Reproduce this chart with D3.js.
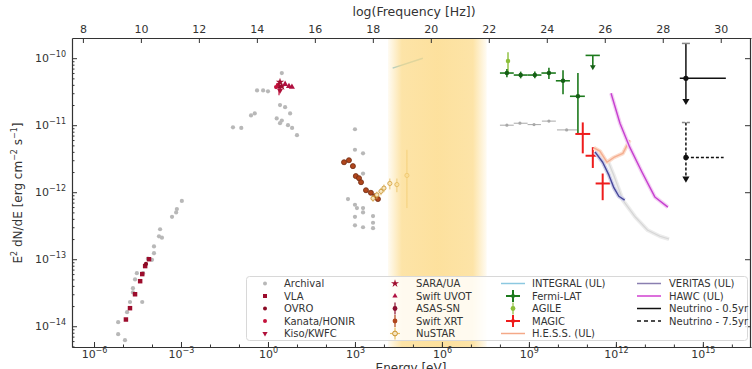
<!DOCTYPE html>
<html>
<head>
<meta charset="utf-8">
<script src="https://cdn.jsdelivr.net/npm/d3@7"></script>
<style>
  body { margin: 0; background: #fff; }
  svg { display: block; font-family: "DejaVu Sans", sans-serif; }
</style>
</head>
<body>
<svg id="chart" width="752" height="369"></svg>
<script>
// ---- data: [energy eV, E^2 dN/dE erg cm^-2 s^-1] ----
const archival = [
  [6.8e-6, 7.6e-15], [1.17e-5, 6.2e-15], [6.8e-6, 1.15e-14], [1.38e-5, 1.62e-14], [1.74e-5, 2.3e-14],
  [2.2e-5, 3.2e-14], [2.2e-5, 3.7e-14], [4.6e-5, 2.3e-14], [2.6e-5, 5.0e-14], [3.0e-5, 6.2e-14],
  [4.9e-5, 6.2e-14], [7.2e-5, 1.02e-13], [1.0e-4, 9.8e-14], [1.17e-4, 1.55e-13], [1.17e-4, 1.23e-13],
  [1.74e-4, 2.2e-13], [2.2e-4, 2.1e-13], [1.9e-4, 2.8e-13], [4.9e-4, 4.3e-13], [6.8e-4, 5.0e-13],
  [7.2e-4, 5.6e-13], [1.07e-3, 7.4e-13],
  [3.0, 6.0e-11], [0.68, 3.3e-11], [1.0, 3.2e-11], [0.42, 3.3e-11], [2.6, 2.0e-11], [3.9, 1.86e-11],
  [0.35, 1.5e-11], [0.26, 1.4e-11], [2.0, 1.26e-11], [3.0, 1.17e-11], [5.8, 1.5e-11], [2.6, 1.07e-11],
  [4.9, 1.0e-11], [6.8, 9.1e-12], [10, 7.1e-12], [0.062, 9.3e-12], [0.12, 9.1e-12],
  [1000, 8.7e-12], [1000, 4.3e-12], [1900, 3.8e-12], [1900, 1.9e-12], [575, 7.9e-13], [1000, 6.5e-13],
  [1170, 5.8e-13], [1900, 5.8e-13], [1900, 5.0e-13], [1000, 4.3e-13], [4200, 4.4e-13], [4200, 3.5e-13],
  [1000, 3.2e-13], [1900, 3.0e-13], [4200, 2.9e-13]
];
// archival gamma-ray points with energy bins [E, F, Elo, Ehi]
const archivalGamma = [
  [1.74e8, 1.0e-11, 1.0e8, 3.0e8], [4.9e8, 1.07e-11, 3.0e8, 9.0e8], [1.5e9, 1.02e-11, 9.0e8, 2.6e9],
  [4.9e9, 1.15e-11, 2.8e9, 8.5e9], [2.0e10, 8.5e-12, 9.3e9, 4.6e10]
];
const vla = [[1.26e-5, 1.26e-14], [1.74e-5, 1.86e-14], [2.6e-5, 3.0e-14], [3.9e-5, 4.7e-14],
  [4.6e-5, 6.0e-14], [5.8e-5, 7.9e-14], [7.9e-5, 1.0e-13]];
const ovro = [[6.2e-5, 8.5e-14]];
const kanata = [[1.9, 3.7e-11], [2.2, 4.0e-11]];
const kiso = [[2.6, 3.3e-11]];
const sara = [[3.0, 3.8e-11], [2.6, 4.4e-11]];
const uvot = [[3.9, 4.1e-11], [5.3, 3.8e-11], [6.7, 3.7e-11]];
const asassn = [[2.4, 3.8e-11, 2.8e-11, 4.6e-11]];
const swiftXrt = [[420, 2.8e-12], [620, 3.0e-12], [850, 2.45e-12], [1070, 1.74e-12], [1380, 1.62e-12],
  [1620, 1.41e-12], [2400, 1.07e-12], [3550, 9.8e-13], [4900, 8.7e-13], [6200, 7.9e-13]];
// [E, F, Flo, Fhi]
const nustar = [[4200, 8.1e-13, 7.2e-13, 9.0e-13], [5700, 9.1e-13, 8.0e-13, 1.02e-12],
  [7900, 1.03e-12, 9.0e-13, 1.16e-12], [1.0e4, 1.15e-12, 1.0e-12, 1.3e-12],
  [1.6e4, 1.35e-12, 1.1e-12, 1.6e-12], [2.8e4, 1.3e-12, 1.0e-12, 1.6e-12], [6.2e4, 1.78e-12, 5.8e-13, 4.3e-12]];
const integral = [[2.0e4, 7.1e-11], [2.2e5, 1.0e-10]];
// [E, F, Flo, Fhi, Elo, Ehi]
const fermi = [
  [1.74e8, 6.0e-11, 5.2e-11, 6.9e-11, 1.0e8, 3.0e8], [5.2e8, 5.6e-11, 5.0e-11, 6.3e-11, 3.0e8, 9.0e8],
  [1.6e9, 5.6e-11, 5.0e-11, 6.3e-11, 9.0e8, 2.7e9], [4.9e9, 6.0e-11, 4.9e-11, 7.2e-11, 2.7e9, 8.5e9],
  [1.5e10, 4.6e-11, 2.9e-11, 6.6e-11, 8.5e9, 2.6e10], [4.9e10, 2.7e-11, 7.6e-12, 6.0e-11, 2.6e10, 8.5e10]
];
const fermiUL = [[1.6e11, 1.1e-10, 7.4e-11, 9.0e10, 2.8e11]];
const agile = [[1.9e8, 9.1e-11, 6.0e-11, 1.23e-10]];
const magic = [[7.2e10, 7.4e-12, 3.8e-12, 1.1e-11, 4.0e10, 1.3e11], [1.6e11, 3.5e-12, 2.3e-12, 4.7e-12, 9.0e10, 2.8e11],
  [3.5e11, 1.35e-12, 7.6e-13, 1.9e-12, 2.0e11, 6.2e11]];
const hess = [[1.74e11, 4.6e-12], [2.8e11, 4.1e-12], [4.9e11, 2.8e-12], [8.5e11, 3.3e-12], [1.74e12, 3.8e-12], [3.0e12, 6.0e-12]];
const veritas = [[1.9e11, 4.0e-12], [3.5e11, 2.8e-12], [5.8e11, 1.78e-12], [8.5e11, 1.17e-12], [1.26e12, 8.7e-13], [2.0e12, 7.6e-13]];
const veritasArch = [[5.2e11, 3.0e-12], [8.5e11, 1.78e-12], [1.74e12, 7.6e-13], [4.6e12, 4.3e-13], [1.26e13, 2.7e-13],
  [3.3e13, 2.2e-13], [6.8e13, 2.0e-13]];
const hawc = [[6.8e11, 3.0e-11], [1.38e12, 1.07e-11], [3.0e12, 4.7e-12], [7.9e12, 2.0e-12], [2.2e13, 8.5e-13], [6.2e13, 6.0e-13]];
// neutrino: [E, F, Flo, Fhi, Elo, Ehi]
const nu05 = [2.6e14, 5.0e-11, 2.3e-11, 1.66e-10, 1.6e14, 6.2e15];
const nu75 = [2.6e14, 3.3e-12, 1.6e-12, 1.1e-11, 2.6e14, 5.2e15];
const bandRange = [1.38e4, 3.5e7];
const yTickExp = [-14, -13, -12, -11, -10];
const xTickExp = [-6, -3, 0, 3, 6, 9, 12, 15];
const freqTicks = [8, 10, 12, 14, 16, 18, 20, 22, 24, 26, 28, 30];

const H_EV = 4.1357e-15;
const L = 72, R = 750, T = 38, B = 347;
const svg = d3.select("#chart");
const x = d3.scaleLog().domain([1.74e-7, 4.57e16]).range([L, 751]);
const y = d3.scaleLog().domain([4.9e-15, 2.0e-10]).range([B, T]);
const xf = d3.scaleLinear().domain([Math.log10(1.74e-7 / H_EV), Math.log10(4.57e16 / H_EV)]).range([L, 751]);

svg.append("defs").append("clipPath").attr("id", "clip")
  .append("rect").attr("x", L).attr("y", T).attr("width", R - L).attr("height", B - T);
const plot = svg.append("g").attr("clip-path", "url(#clip)");

const sym = (type, size) => d3.symbol().type(type).size(size)();

function errY(g, d, color, w) {
  g.append("line").attr("x1", x(d[0])).attr("x2", x(d[0])).attr("y1", y(d[2])).attr("y2", y(d[3]))
    .attr("stroke", color).attr("stroke-width", w);
}
function errX(g, e, f, lo, hi, color, w) {
  g.append("line").attr("x1", x(lo)).attr("x2", x(hi)).attr("y1", y(f)).attr("y2", y(f))
    .attr("stroke", color).attr("stroke-width", w);
}
function points(data, type, size, fill, stroke, rot) {
  plot.append("g").selectAll("path").data(data).join("path")
    .attr("d", sym(type, size))
    .attr("transform", d => `translate(${x(d[0])},${y(d[1])})` + (rot ? " rotate(180)" : ""))
    .attr("fill", fill).attr("stroke", stroke || "none").attr("stroke-width", 0.8);
}

// archival
points(archival, d3.symbolCircle, 14, "#b8b8b8");
archivalGamma.forEach(d => errX(plot, d[0], d[1], d[2], d[3], "#a8a8a8", 1));
points(archivalGamma, d3.symbolCircle, 8, "#a8a8a8");

// radio / optical
points(vla, d3.symbolSquare, 20, "#9c0c2c");
points(ovro, d3.symbolCircle, 14, "#8a0a24");
asassn.forEach(d => errY(plot, d, "#c21440", 1.2));
points(asassn, d3.symbolCircle, 16, "#8b1030");
points(kanata, d3.symbolCircle, 14, "#c4123c");
points(kiso, d3.symbolTriangle, 16, "#b0103a", null, true);
points(sara, d3.symbolStar, 22, "#a00e30");
points(uvot, d3.symbolTriangle, 16, "#b01040");

// X-ray
points(swiftXrt, d3.symbolCircle, 20, "#b0461c", "#6e2a10");
nustar.forEach(d => errY(plot, d, "#e0b860", 1));
points(nustar, d3.symbolCircle, 14, "#f6e6c0", "#c8902a");
plot.append("path").datum(integral)
  .attr("d", d3.line().x(d => x(d[0])).y(d => y(d[1])))
  .attr("fill", "none").attr("stroke", "#8cc8e0").attr("stroke-width", 1.5);

// gamma-ray
const gam = plot.append("g");
agile.forEach(d => errY(gam, d, "#8cbf3a", 1.4));
points(agile, d3.symbolCircle, 16, "#8cbf3a");
fermi.forEach(d => { errY(gam, d, "#1d7a1d", 1.6); errX(gam, d[0], d[1], d[4], d[5], "#1d7a1d", 1.6); });
points(fermi, d3.symbolCircle, 16, "#165f16");
fermiUL.forEach(d => {
  errX(gam, d[0], d[1], d[3], d[4], "#1d7a1d", 1.6);
  gam.append("line").attr("x1", x(d[0])).attr("x2", x(d[0])).attr("y1", y(d[1])).attr("y2", y(d[2]))
    .attr("stroke", "#1d7a1d").attr("stroke-width", 1.6);
  gam.append("path").attr("d", sym(d3.symbolTriangle, 14))
    .attr("transform", `translate(${x(d[0])},${y(d[2])}) rotate(180)`).attr("fill", "#165f16");
});

const curve = (data, color, w, op) => plot.append("path").datum(data)
  .attr("d", d3.line().x(d => x(d[0])).y(d => y(d[1])))
  .attr("fill", "none").attr("stroke", color).attr("stroke-width", w).attr("stroke-opacity", op)
  .attr("stroke-linejoin", "round");
curve(veritasArch, "#ececec", 4, 1);
curve(veritasArch, "#d6d6d6", 1.2, 1);
curve(hess, "#fcdccc", 4, 1);
curve(hess, "#f4ae90", 1.4, 1);
curve(veritas, "#d0d0ea", 4, 1);
curve(veritas, "#46479a", 1.4, 1);
curve(hawc, "#f3d0f3", 4, 1);
curve(hawc, "#c63fd0", 1.4, 1);

magic.forEach(d => { errY(gam, d, "#ee1c1c", 2); errX(gam, d[0], d[1], d[4], d[5], "#ee1c1c", 2); });

// neutrinos
function neutrino(d, dash) {
  const g = plot.append("g").attr("stroke", "#111").attr("stroke-width", 1.5).attr("stroke-dasharray", dash);
  g.append("line").attr("x1", x(d[0])).attr("x2", x(d[0])).attr("y1", y(d[3])).attr("y2", y(d[2]));
  g.append("line").attr("x1", x(d[4])).attr("x2", x(d[5])).attr("y1", y(d[1])).attr("y2", y(d[1]));
  g.append("line").attr("x1", x(d[0]) - 4).attr("x2", x(d[0]) + 4).attr("y1", y(d[3])).attr("y2", y(d[3]))
    .attr("stroke", "#888").attr("stroke-dasharray", null);
  plot.append("path").attr("d", sym(d3.symbolTriangle, 22))
    .attr("transform", `translate(${x(d[0])},${y(d[2])}) rotate(180)`).attr("fill", "#111");
  plot.append("circle").attr("cx", x(d[0])).attr("cy", y(d[1])).attr("r", 2.6).attr("fill", "#111");
}
neutrino(nu05, null);
neutrino(nu75, "3,2");

// MeV gap band
const grad = svg.select("defs").append("linearGradient").attr("id", "band");
[[0, 0.1], [0.14, 0.72], [0.5, 0.8], [0.86, 0.72], [1, 0.1]].forEach(s =>
  grad.append("stop").attr("offset", s[0]).attr("stop-color", "#fcd985").attr("stop-opacity", s[1]));
plot.append("rect").attr("x", x(bandRange[0])).attr("y", T).attr("width", x(bandRange[1]) - x(bandRange[0]))
  .attr("height", B - T).attr("fill", "url(#band)");

// axes
function supLabel(t, base, exp) {
  t.text(null);
  t.append("tspan").text(base);
  t.append("tspan").attr("dy", -5).attr("font-size", 8).text(exp);
}
const axStyle = g => {
  g.select(".domain").attr("stroke", "#333").attr("stroke-width", 1.2);
  g.selectAll(".tick line").attr("stroke", "#333");
  g.selectAll("text").attr("fill", "#333").attr("font-size", 11).attr("font-family", "DejaVu Sans");
};

const minorY = [];
for (let p = -15; p <= -10; p++) for (let k = 2; k <= 9; k++) minorY.push(k * Math.pow(10, p));
svg.append("g").attr("transform", `translate(${L},0)`)
  .call(d3.axisLeft(y).tickValues(minorY.filter(v => v > 4.9e-15 && v < 2e-10)).tickSize(-2.5).tickFormat(""))
  .call(g => g.select(".domain").remove()).selectAll("line").attr("stroke", "#333");
svg.append("g").attr("transform", `translate(${L},0)`)
  .call(d3.axisLeft(y).tickValues(yTickExp.map(p => Math.pow(10, p))).tickSize(-5).tickSizeOuter(0).tickPadding(6))
  .call(axStyle)
  .selectAll(".tick text").each(function (d, i) { supLabel(d3.select(this), "10", "\u2212" + (-yTickExp[i])); });
svg.append("g").attr("transform", `translate(${R},0)`)
  .call(d3.axisRight(y).tickValues(yTickExp.map(p => Math.pow(10, p))).tickSize(-5).tickSizeOuter(0).tickFormat(""))
  .call(axStyle);

const minorX = d3.range(-6, 17).map(p => Math.pow(10, p));
svg.append("g").attr("transform", `translate(0,${B})`)
  .call(d3.axisBottom(x).tickValues(minorX).tickSize(-2.5).tickFormat(""))
  .call(g => g.select(".domain").remove()).selectAll("line").attr("stroke", "#333");
svg.append("g").attr("transform", `translate(0,${B})`)
  .call(d3.axisBottom(x).tickValues(xTickExp.map(p => Math.pow(10, p))).tickSize(-5).tickSizeOuter(0).tickPadding(3))
  .call(axStyle)
  .selectAll(".tick text").each(function (d, i) {
    const e = xTickExp[i];
    supLabel(d3.select(this), "10", e < 0 ? "\u2212" + (-e) : String(e));
  });
svg.append("g").attr("transform", `translate(0,${T})`)
  .call(d3.axisTop(xf).tickValues(freqTicks).tickSize(-5).tickSizeOuter(0).tickPadding(5))
  .call(axStyle);

svg.append("text").attr("x", 414).attr("y", 16).attr("text-anchor", "middle")
  .attr("font-size", 12.5).attr("fill", "#333").text("log(Frequency [Hz])");
svg.append("text").attr("x", 411).attr("y", 372).attr("text-anchor", "middle")
  .attr("font-size", 12).attr("fill", "#333").text("Energy [eV]");
const yl = svg.append("text").attr("transform", "translate(22,193) rotate(-90)").attr("text-anchor", "middle")
  .attr("font-size", 12).attr("fill", "#333");
yl.append("tspan").text("E");
yl.append("tspan").attr("dy", -5).attr("font-size", 8).text("2");
yl.append("tspan").attr("dy", 5).text(" dN/dE [erg cm");
yl.append("tspan").attr("dy", -5).attr("font-size", 8).text("\u22122");
yl.append("tspan").attr("dy", 5).text(" s");
yl.append("tspan").attr("dy", -5).attr("font-size", 8).text("\u22121");
yl.append("tspan").attr("dy", 5).text("]");

// legend
const legendItems = [
  ["Archival", "dot", "#b8b8b8"], ["VLA", "square", "#9c0c2c"], ["OVRO", "dot", "#8a0a24"],
  ["Kanata/HONIR", "dot", "#c4123c"], ["Kiso/KWFC", "tridown", "#b0103a"],
  ["SARA/UA", "star", "#a00e30"], ["Swift UVOT", "tri", "#b01040"], ["ASAS-SN", "errdot", "#8b1030"],
  ["Swift XRT", "errdot", "#b0461c"], ["NuSTAR", "erropen", "#c8902a"],
  ["INTEGRAL (UL)", "line", "#8cc8e0"], ["Fermi-LAT", "cross", "#1d7a1d"], ["AGILE", "errdot", "#8cbf3a"],
  ["MAGIC", "cross", "#ee1c1c"], ["H.E.S.S. (UL)", "line", "#f4a988"],
  ["VERITAS (UL)", "line", "#8a7fb0"], ["HAWC (UL)", "line", "#d040d0"],
  ["Neutrino - 0.5yr", "line", "#111"], ["Neutrino - 7.5yr", "dash", "#111"]
];
const colX = [265, 395, 513, 649], textX = [284, 416, 532, 669], rowY = [283.5, 296, 308.5, 321, 333.5];
const colOf = [0, 0, 0, 0, 0, 1, 1, 1, 1, 1, 2, 2, 2, 2, 2, 3, 3, 3, 3];
const rowOf = [0, 1, 2, 3, 4, 0, 1, 2, 3, 4, 0, 1, 2, 3, 4, 0, 1, 2, 3];
const lg = svg.append("g");
lg.append("rect").attr("x", 246.5).attr("y", 276.5).attr("width", 501).attr("height", 64).attr("rx", 3)
  .attr("fill", "#fff").attr("fill-opacity", 0.82).attr("stroke", "#d8d8d8");
legendItems.forEach((it, i) => {
  const cx = colX[colOf[i]], cy = rowY[rowOf[i]], c = it[2];
  const g = lg.append("g").attr("transform", `translate(${cx},${cy})`);
  if (it[1] === "dot") g.append("circle").attr("r", 2).attr("fill", c);
  if (it[1] === "square") g.append("path").attr("d", sym(d3.symbolSquare, 16)).attr("fill", c);
  if (it[1] === "tri") g.append("path").attr("d", sym(d3.symbolTriangle, 12)).attr("fill", c);
  if (it[1] === "tridown") g.append("path").attr("d", sym(d3.symbolTriangle, 12)).attr("transform", "rotate(180)").attr("fill", c);
  if (it[1] === "star") g.append("path").attr("d", sym(d3.symbolStar, 20)).attr("fill", c);
  if (it[1] === "errdot" || it[1] === "erropen") {
    g.append("line").attr("y1", -6).attr("y2", 6).attr("stroke", it[1] === "erropen" ? "#e8c060" : c).attr("stroke-width", 1.2);
    if (it[1] === "erropen") g.append("line").attr("x1", -5).attr("x2", 5).attr("stroke", "#e8c060").attr("stroke-width", 1.2);
    g.append("circle").attr("r", 2.4).attr("fill", it[1] === "erropen" ? "#f6e6c0" : c).attr("stroke", it[1] === "erropen" ? c : "none");
  }
  if (it[1] === "cross") {
    g.append("line").attr("y1", -6).attr("y2", 6).attr("stroke", c).attr("stroke-width", 2);
    g.append("line").attr("x1", -7).attr("x2", 7).attr("stroke", c).attr("stroke-width", 2);
    g.append("circle").attr("r", 2).attr("fill", c);
  }
  if (it[1] === "line" || it[1] === "dash")
    g.append("line").attr("x1", -12).attr("x2", 12).attr("stroke", c).attr("stroke-width", 1.5)
      .attr("stroke-dasharray", it[1] === "dash" ? "4,3" : null);
  lg.append("text").attr("x", textX[colOf[i]]).attr("y", cy + 3.5).attr("font-size", 10).attr("fill", "#333").text(it[0]);
});
</script>
</body>
</html>
